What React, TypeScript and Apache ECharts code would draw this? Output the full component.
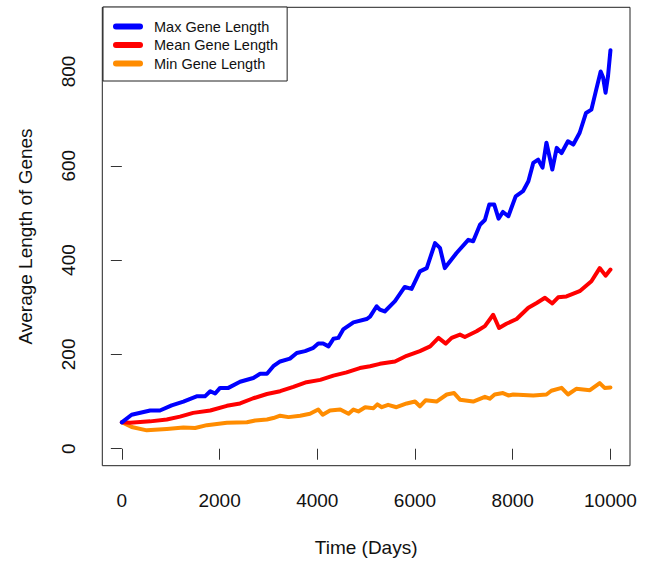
import React, { useEffect, useRef } from "react";
import * as echarts from "echarts";

const maxDays = [0, 200, 580, 780, 1020, 1260, 1530, 1700, 1810, 1910, 2010, 2180, 2420, 2690, 2830, 2970, 3100, 3240, 3440, 3580, 3750, 3920, 4020, 4120, 4230, 4330, 4430, 4530, 4740, 5010, 5080, 5215, 5280, 5380, 5590, 5790, 5930, 6100, 6240, 6410, 6510, 6610, 6850, 7090, 7190, 7330, 7430, 7520, 7620, 7710, 7800, 7910, 8060, 8210, 8320, 8420, 8520, 8610, 8690, 8810, 8900, 9000, 9130, 9240, 9370, 9500, 9610, 9710, 9800, 9850, 9900, 9950, 10000];
const maxVals = [56, 72, 81, 81, 92, 100, 111, 111, 122, 117, 129, 129, 142, 150, 159, 159, 175, 185, 191, 203, 207, 214, 223, 223, 217, 233, 235, 253, 268, 275, 280, 302, 295, 291, 313, 343, 339, 376, 383, 436, 426, 383, 415, 443, 440, 475, 485, 518, 518, 488, 502, 493, 535, 546, 567, 606, 613, 596, 649, 592, 638, 627, 652, 645, 670, 712, 719, 762, 800, 787, 755, 790, 845];

const meanDays = [0, 170, 580, 920, 1190, 1460, 1810, 2150, 2420, 2690, 2970, 3240, 3510, 3780, 4060, 4330, 4600, 4870, 5080, 5280, 5590, 5830, 6100, 6310, 6480, 6630, 6750, 6920, 7020, 7260, 7430, 7600, 7720, 7870, 8080, 8320, 8490, 8660, 8810, 8930, 9100, 9370, 9610, 9780, 9900, 10000];
const meanVals = [56, 55, 58, 62, 68, 76, 81, 91, 96, 107, 116, 122, 131, 141, 146, 155, 162, 171, 175, 180, 185, 197, 207, 217, 235, 223, 235, 242, 237, 249, 260, 284, 256, 265, 275, 299, 309, 320, 308, 321, 323, 334, 355, 383, 367, 380];

const minDays = [0, 200, 510, 920, 1260, 1500, 1740, 2150, 2560, 2730, 2970, 3100, 3240, 3410, 3650, 3850, 4020, 4110, 4260, 4470, 4640, 4740, 4840, 4980, 5150, 5230, 5320, 5450, 5620, 5830, 6000, 6100, 6220, 6440, 6650, 6800, 6920, 7190, 7430, 7530, 7630, 7800, 7910, 8010, 8420, 8690, 8790, 9000, 9130, 9300, 9580, 9780, 9880, 10000];
const minVals = [56, 46, 39, 42, 45, 44, 50, 55, 56, 60, 62, 65, 70, 67, 70, 74, 83, 72, 81, 83, 74, 83, 79, 88, 86, 94, 88, 93, 88, 96, 100, 90, 103, 100, 115, 118, 104, 100, 110, 106, 115, 118, 113, 115, 113, 115, 123, 129, 115, 127, 124, 139, 129, 130];

const seriesNames = ["Max Gene Length", "Mean Gene Length", "Min Gene Length"];
const seriesColors = ["#0000FF", "#FF0000", "#FF8C00"];
const xTicks = [0, 2000, 4000, 6000, 8000, 10000];
const yTicks = [0, 200, 400, 600, 800];
const xTitle = "Time (Days)";
const yTitle = "Average Length of Genes";

const FONT = "'Liberation Sans', Arial, sans-serif";

export default function App() {
  const ref = useRef<HTMLDivElement>(null);
  useEffect(() => {
    if (!ref.current) return;
    const chart = echarts.init(ref.current, undefined, { renderer: "svg" });
    const pairs = (d: number[], v: number[]) => d.map((x, i) => [x, v[i]]);
    const dataSets = [pairs(maxDays, maxVals), pairs(meanDays, meanVals), pairs(minDays, minVals)];
    chart.setOption({
      animation: false,
      backgroundColor: "#ffffff",
      grid: {
        left: 102.3,
        right: 20,
        top: 7.3,
        bottom: 96.3,
        show: true,
        borderColor: "#222",
        borderWidth: 1,
        backgroundColor: "transparent",
      },
      legend: {
        orient: "vertical",
        left: 103,
        top: 7,
        padding: [12, 9, 10, 10],
        itemWidth: 30,
        itemHeight: 6,
        itemGap: 3.5,
        backgroundColor: "#ffffff",
        borderColor: "#222",
        borderWidth: 1,
        borderRadius: 0,
        icon: "path://M3,0 L27,0 A3,3 0 0 1 27,6 L3,6 A3,3 0 0 1 3,0 Z",
        textStyle: { fontFamily: FONT, fontSize: 14.5, color: "#111", lineHeight: 14, padding: [0, 0, 0, 6] },
        data: seriesNames,
      },
      xAxis: {
        type: "value",
        min: -400,
        max: 10400,
        name: xTitle,
        nameLocation: "middle",
        nameGap: 72,
        nameTextStyle: { fontFamily: FONT, fontSize: 19, color: "#111" },
        axisLine: { show: false },
        splitLine: { show: false },
        axisTick: { show: true, customValues: xTicks, length: 11, lineStyle: { color: "#333" } },
        axisLabel: {
          customValues: xTicks,
          margin: 25,
          fontFamily: FONT,
          fontSize: 19,
          color: "#111",
          formatter: (v: number) => String(v),
        },
      },
      yAxis: {
        type: "value",
        min: -36,
        max: 936,
        name: yTitle,
        nameLocation: "middle",
        nameGap: 67,
        nameRotate: 90,
        nameTextStyle: { fontFamily: FONT, fontSize: 19, color: "#111" },
        axisLine: { show: false },
        splitLine: { show: false },
        axisTick: { show: true, customValues: yTicks, length: 11, lineStyle: { color: "#333" } },
        axisLabel: {
          customValues: yTicks,
          rotate: 90,
          margin: 24,
          fontFamily: FONT,
          fontSize: 19,
          color: "#111",
          formatter: (v: number) => String(v),
        },
      },
      series: seriesNames.map((name, i) => ({
        name,
        type: "line",
        data: dataSets[i],
        symbol: "none",
        color: seriesColors[i],
        itemStyle: { color: seriesColors[i] },
        lineStyle: { color: seriesColors[i], width: 4, cap: "round", join: "round" },
        z: 3 - i,
      })),
    });
    return () => chart.dispose();
  }, []);
  return <div ref={ref} style={{ position: "fixed", left: 0, top: 0, width: 650, height: 562 }} />;
}
